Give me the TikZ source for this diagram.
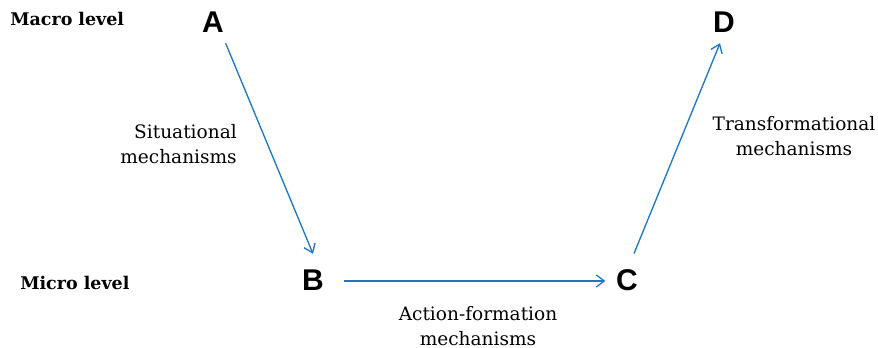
\documentclass[tikz,border=0pt]{standalone}
\usepackage{fontspec}
\setmainfont{DejaVu Serif}
\newfontfamily\lettersf{Liberation Sans}
\usetikzlibrary{arrows.meta}
\definecolor{linkblue}{RGB}{31,119,192}

\begin{document}
\begin{tikzpicture}[x=0.75pt, y=-0.75pt,
		letter/.style={inner sep=0pt, font=\lettersf\bfseries\fontsize{22.5}{24}\selectfont},
		level/.style={inner sep=0pt, anchor=west, font=\bfseries\fontsize{13.1}{15}\selectfont},
		mech/.style={inner sep=0pt, font=\fontsize{13.9}{18.75}\selectfont},
		flow/.style={draw=linkblue, line width=1pt, -{Straight Barb[length=6pt,width=9pt]}}]
		\useasboundingbox (0, 0) rectangle (878, 348);
		\node[level] (macro) at (10, 19) {Macro level};
		\node[level] (micro) at (20, 283) {Micro level};
		\node[letter] (A) at (213, 22) {A};
		\node[letter] (B) at (313, 280) {B};
		\node[letter] (C) at (627, 280) {C};
		\node[letter] (D) at (724, 22) {D};
		\node[mech, align=right, anchor=east] (situational) at (237, 144) {Situational\\mechanisms};
		\node[mech, align=center] (action) at (478, 326) {Action-formation\\mechanisms};
		\node[mech, align=center] (transformational) at (794, 136) {Transformational\\mechanisms};
		\draw[flow] ([shift={(1.5, 10.6)}]A.south east) -- ([shift={(0, -15.6)}]B.north);
		\draw[flow] ([shift={(19.5, 1)}]B.east) -- ([shift={(-10.5, 1)}]C.west);
		\draw[flow] ([shift={(7, -15.6)}]C.north) -- ([shift={(-4, 10.6)}]D.south);
	\end{tikzpicture}
\end{document}
